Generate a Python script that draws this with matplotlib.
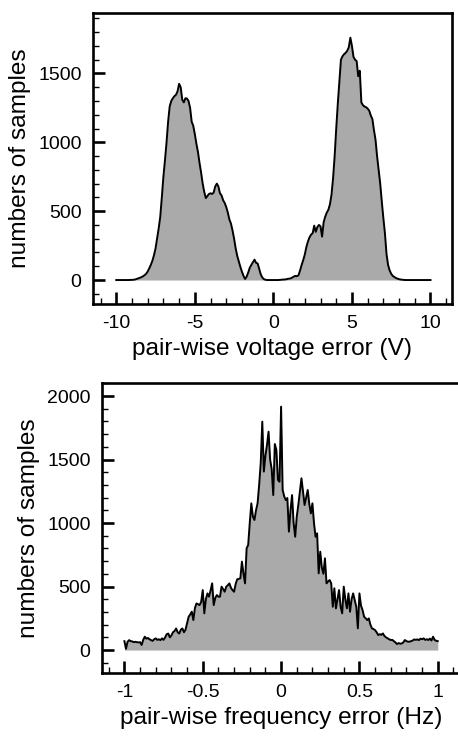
import numpy as np
import matplotlib
matplotlib.use("Agg")
import matplotlib.pyplot as plt
from matplotlib.ticker import MultipleLocator

plt.rcParams['font.family'] = ['Liberation Sans', 'DejaVu Sans']
plt.rcParams['axes.unicode_minus'] = False

# ---- data: pair-wise voltage error histogram (bins of 0.1 V, -10..10) ----
volt_x = np.round(np.arange(-100, 101) / 10.0, 1)
volt_counts = [
    0, 0, 0, 0, 0, 0, 0, 0, 0, 1,
    1, 2, 4, 8, 12, 16, 21, 27, 35, 45,
    62, 85, 110, 140, 180, 230, 300, 375, 460, 600,
    750, 870, 1000, 1150, 1260, 1300, 1320, 1335, 1345, 1370,
    1425, 1400, 1310, 1290, 1320, 1318, 1300, 1250, 1150, 1120,
    1060, 990, 930, 850, 780, 700, 640, 595, 610, 625,
    630, 625, 635, 680, 700, 680, 630, 615, 580, 560,
    530, 490, 440, 410, 360, 300, 230, 175, 135, 95,
    60, 30, 8, 25, 55, 90, 110, 130, 148, 125,
    120, 80, 40, 18, 6, 2, 0, 0, 0, 0,
    0, 0, 0, 0, 1, 2, 3, 4, 5, 8,
    10, 12, 18, 25, 30, 28, 35, 70, 110, 145,
    185, 240, 280, 310, 330, 340, 395, 350, 385, 400,
    390, 315, 420, 460, 490, 510, 550, 620, 740, 900,
    1100, 1280, 1440, 1600, 1625, 1640, 1650, 1665, 1690, 1760,
    1700, 1620, 1600, 1590, 1480, 1520, 1290, 1270, 1260, 1255,
    1245, 1230, 1195, 1170, 1090, 1020, 900, 800, 700, 570,
    450, 340, 190, 110, 70, 45, 30, 22, 15, 10,
    6, 4, 2, 1, 0, 0, 0, 0, 0, 0,
    0, 0, 0, 0, 0, 0, 0, 0, 0, 0,
    0,
]

# ---- data: pair-wise frequency error histogram (bins of 0.01 Hz, -1..1) ----
freq_x = np.round(np.arange(-100, 101) / 100.0, 2)
freq_counts = [
    70, 10, 65, 78, 70, 68, 62, 65, 62, 60,
    62, 40, 80, 105, 90, 95, 85, 78, 72, 85,
    92, 80, 85, 78, 92, 80, 100, 125, 130, 100,
    115, 140, 150, 170, 140, 130, 160, 170, 140, 160,
    210, 262, 280, 302, 236, 330, 367, 360, 354, 380,
    472, 289, 400, 446, 420, 470, 525, 354, 410, 433,
    420, 420, 499, 480, 459, 499, 510, 525, 490, 472,
    459, 520, 557, 560, 565, 696, 600, 525, 801, 827,
    1000, 1155, 1050, 1024, 1100, 1155, 1300, 1470, 1798, 1405,
    1530, 1614, 1719, 1500, 1425, 1220, 1622, 1575, 1339, 1325,
    1916, 1260, 1210, 1181, 1197, 932, 1100, 1220, 1000, 892,
    1050, 1142, 1250, 1352, 1250, 1142, 1200, 1260, 1150, 1076,
    1155, 1000, 892, 919, 604, 774, 650, 600, 722, 525,
    540, 551, 525, 341, 486, 328, 400, 472, 341, 289,
    499, 400, 328, 446, 302, 400, 446, 394, 341, 171,
    446, 350, 315, 262, 250, 236, 249, 200, 171, 165,
    157, 140, 118, 125, 120, 131, 110, 100, 92, 85,
    79, 80, 70, 60, 47, 55, 50, 52, 60, 79,
    70, 66, 66, 70, 75, 84, 80, 84, 78, 90,
    85, 92, 80, 85, 79, 90, 75, 105, 80, 73,
    70,
]

volt_ticks = [-10, -5, 0, 5, 10]
volt_ticklabels = ['-10', '-5', '0', '5', '10']
freq_ticks = [-1, -0.5, 0, 0.5, 1]
freq_ticklabels = ['-1', '-0.5', '0', '0.5', '1']
volt_yticks = [0, 500, 1000, 1500]
freq_yticks = [0, 500, 1000, 1500, 2000]

FILL = '#aaaaaa'
TICK_FS = 14
LABEL_FS = 17.6

W, H = 458, 741
fig = plt.figure(figsize=(W / 100, H / 100), dpi=100)


def px_axes(left, top, right, bottom):
    return fig.add_axes([left / W, 1 - bottom / H, (right - left) / W, (bottom - top) / H])


def style(ax):
    for s in ax.spines.values():
        s.set_linewidth(1.9)
    ax.tick_params(which='both', direction='in', top=False, right=False,
                   labelsize=TICK_FS, pad=8)
    ax.tick_params(which='major', length=8.6, width=1.9)
    ax.tick_params(which='minor', length=4.0, width=1.0)


# top panel
ax1 = px_axes(92.7, 13.3, 451.7, 304)
ax1.fill_between(volt_x, volt_counts, 0, color=FILL, lw=0)
ax1.plot(volt_x, volt_counts, color='black', lw=1.4)
ax1.set_xlim(-11.5, 11.35)
ax1.set_ylim(-174, 1937)
ax1.set_xticks(volt_ticks)
ax1.set_xticklabels(volt_ticklabels)
ax1.set_yticks(volt_yticks)
ax1.xaxis.set_minor_locator(MultipleLocator(1))
ax1.yaxis.set_minor_locator(MultipleLocator(100))
style(ax1)
ax1.set_xlabel('pair-wise voltage error (V)', fontsize=LABEL_FS, labelpad=4)
ax1.set_ylabel('numbers of samples', fontsize=LABEL_FS, labelpad=5)

# bottom panel
ax2 = px_axes(101.7, 383.3, 460, 673.3)
ax2.fill_between(freq_x, freq_counts, 0, color=FILL, lw=0)
ax2.plot(freq_x, freq_counts, color='black', lw=1.4)
ax2.set_xlim(-1.145, 1.142)
ax2.set_ylim(-183, 2100)
ax2.set_xticks(freq_ticks)
ax2.set_xticklabels(freq_ticklabels)
ax2.set_yticks(freq_yticks)
ax2.xaxis.set_minor_locator(MultipleLocator(0.1))
ax2.yaxis.set_minor_locator(MultipleLocator(100))
style(ax2)
ax2.set_xlabel('pair-wise frequency error (Hz)', fontsize=LABEL_FS, labelpad=4)
ax2.set_ylabel('numbers of samples', fontsize=LABEL_FS, labelpad=5)

fig.savefig('out.png', dpi=100)
